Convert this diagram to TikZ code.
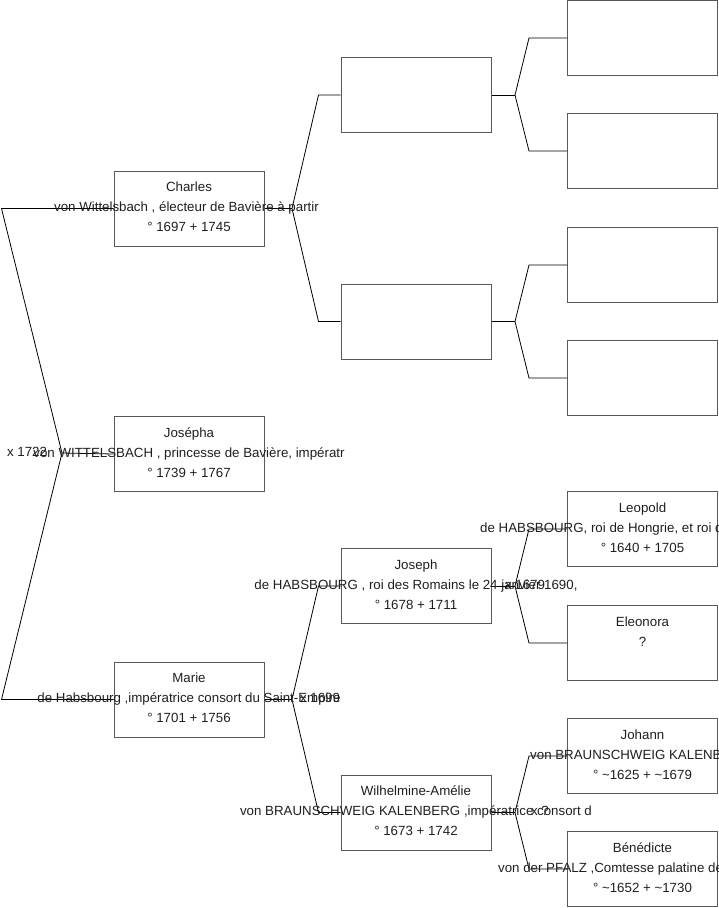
\documentclass[tikz,border=0pt]{standalone}
\usepackage{fontspec}
\setmainfont{Liberation Sans}
\usetikzlibrary{calc}
\tikzset{
  box/.style={draw=black!65, line width=1pt, minimum width=150pt, minimum height=75pt, inner sep=0pt},
  txt/.style={font=\fontsize{13.3}{16}\selectfont, text=black!88, inner sep=0pt, text height=10pt, text depth=3pt},
  link/.style={draw=black, line width=0.8pt, line join=miter},
}
\newcommand\persontext[4]{%
  \node[txt] (#1-a) at ($(#1.center)+(0,-20.5)$) {#2};
  \node[txt] (#1-b) at ($(#1.center)+(0,-0.5)$) {#3};
  \node[txt] (#1-c) at ($(#1.center)+(0,19.5)$) {#4};
}
\begin{document}
\begin{tikzpicture}[x=1pt,y=-1pt]
\useasboundingbox (0,0) rectangle (719,908);
% generation 1
\node[box] (charles) at (189,208.5) {};
\node[box] (josepha) at (189,454) {};
\node[box] (marie) at (189,699.5) {};
% generation 2
\node[box] (f1) at (416,95) {};
\node[box] (f2) at (416,321.5) {};
\node[box] (joseph) at (416,586) {};
\node[box] (wilh) at (416,812.5) {};
% generation 3
\node[box] (g1) at (642.5,38) {};
\node[box] (g2) at (642.5,151) {};
\node[box] (g3) at (642.5,265) {};
\node[box] (g4) at (642.5,378) {};
\node[box] (leopold) at (642.5,529) {};
\node[box] (eleonora) at (642.5,643) {};
\node[box] (johann) at (642.5,756) {};
\node[box] (benedicte) at (642.5,869) {};

% connectors
\coordinate (j0) at (62,453);
\coordinate (c0a) at (1.5,208.5);
\coordinate (c0b) at (1.5,699.5);
\draw[link] (charles.west) -- (c0a) -- (j0) -- (c0b) -- (marie.west);
\draw[link] (j0) -- (josepha.west);

\coordinate (j1) at (292,208.5);
\draw[link] (charles.east) -- (j1);
\draw[link] (j1) -- ($(f1.west)+(-22,0)$) -- (f1.west);
\draw[link] (j1) -- ($(f2.west)+(-22,0)$) -- (f2.west);

\coordinate (j4) at (292,699.5);
\draw[link] (marie.east) -- (j4);
\draw[link] (j4) -- ($(joseph.west)+(-22,0)$) -- (joseph.west);
\draw[link] (j4) -- ($(wilh.west)+(-22,0)$) -- (wilh.west);

\coordinate (j2) at (515,95);
\draw[link] (f1.east) -- (j2);
\draw[link] (j2) -- ($(g1.west)+(-38,0)$) -- (g1.west);
\draw[link] (j2) -- ($(g2.west)+(-38,0)$) -- (g2.west);

\coordinate (j3) at (515,321.5);
\draw[link] (f2.east) -- (j3);
\draw[link] (j3) -- ($(g3.west)+(-38,0)$) -- (g3.west);
\draw[link] (j3) -- ($(g4.west)+(-38,0)$) -- (g4.west);

\coordinate (j5) at (515,586);
\draw[link] (joseph.east) -- (j5);
\draw[link] (j5) -- ($(leopold.west)+(-38,0)$) -- (leopold.west);
\draw[link] (j5) -- ($(eleonora.west)+(-38,0)$) -- (eleonora.west);

\coordinate (j6) at (515,812.5);
\draw[link] (wilh.east) -- (j6);
\draw[link] (j6) -- ($(johann.west)+(-38,0)$) -- (johann.west);
\draw[link] (j6) -- ($(benedicte.west)+(-38,0)$) -- (benedicte.west);

% texts
\node[txt] (charles-a) at ($(charles.center)+(0,-20.5)$) {Charles};
\node[txt] (charles-b) at ($(charles.center)+(-2.5,-0.5)$) {von Wittelsbach , électeur de Bavière à partir};
\node[txt] (charles-c) at ($(charles.center)+(0,19.5)$) {° 1697 + 1745};
\persontext{josepha}{Josépha}{von WITTELSBACH , princesse de Bavière, impératr}{° 1739 + 1767}
\persontext{marie}{Marie}{de Habsbourg ,impératrice consort du Saint-Empire}{° 1701 + 1756}
\persontext{joseph}{Joseph}{de HABSBOURG , roi des Romains le 24 janvier 1690,}{° 1678 + 1711}
\persontext{wilh}{Wilhelmine-Amélie}{von BRAUNSCHWEIG KALENBERG ,impératrice consort d}{° 1673 + 1742}

\node[txt] (leopold-a) at ($(leopold.center)+(0,-20.5)$) {Leopold};
\node[txt, anchor=west] (leopold-b) at ($(leopold.center)+(-162.5,-0.5)$) {de HABSBOURG, roi de Hongrie, et roi d};
\node[txt] (leopold-c) at ($(leopold.center)+(0,19.5)$) {° 1640 + 1705};

\node[txt] (eleonora-a) at ($(eleonora.center)+(0,-20.5)$) {Eleonora};
\node[txt] (eleonora-b) at ($(eleonora.center)+(0,-0.5)$) {?};

\node[txt] (johann-a) at ($(johann.center)+(0,-20.5)$) {Johann};
\node[txt, anchor=west] (johann-b) at ($(johann.center)+(-112.5,-0.5)$) {von BRAUNSCHWEIG KALENB};
\node[txt] (johann-c) at ($(johann.center)+(0,19.5)$) {° \textasciitilde 1625 + \textasciitilde 1679};

\node[txt] (benedicte-a) at ($(benedicte.center)+(0,-20.5)$) {Bénédicte};
\node[txt, anchor=west] (benedicte-b) at ($(benedicte.center)+(-144.5,-0.5)$) {von der PFALZ ,Comtesse palatine de};
\node[txt] (benedicte-c) at ($(benedicte.center)+(0,19.5)$) {° \textasciitilde 1652 + \textasciitilde 1730};

% marriage labels
\node[txt] (m0) at (27,452.5) {x 1722};
\node[txt] (m1) at (320,699) {x 1699};
\node[txt] (m2) at (525,585.5) {x 1679};
\node[txt] (m3) at (540,812) {x ?};
\end{tikzpicture}
\end{document}
